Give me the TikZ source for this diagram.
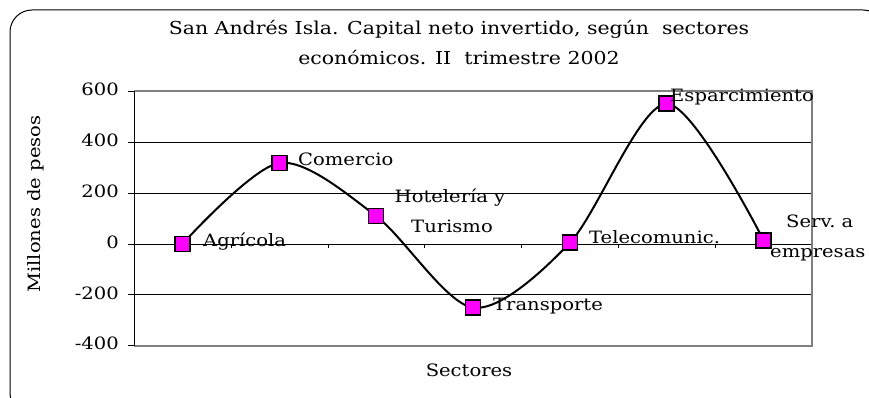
\documentclass[tikz,border=0pt]{standalone}
\usepackage{fontspec}
\setmainfont[FakeStretch=1.15]{DejaVu Serif}
\usetikzlibrary{positioning}

\definecolor{punto}{RGB}{255,0,255}
\definecolor{marco}{RGB}{128,128,128}

\begin{document}
\begin{tikzpicture}[x=1pt, y=-1pt, font=\fontsize{17}{20}\selectfont,
	marca/.style = {draw, line width=1.5pt, fill=punto, minimum size=15pt, inner sep=0pt},
	etiq/.style = {inner sep=0pt, anchor=base west},
	grid/.style = {line width=0.9pt}]
\useasboundingbox (0, 0) rectangle (869, 398);
\draw[line width=1pt, rounded corners=22pt] (10, 10) rectangle (885, 415);

% titulo
\node[anchor=base, font=\fontsize{17.8}{20}\selectfont] (tit1) at (459, 35) {San Andrés Isla. Capital neto invertido, según\ \ sectores};
\node[anchor=base, font=\fontsize{17.8}{20}\selectfont] (tit2) at (459, 65) {económicos. II\ \ trimestre 2002};

% rejilla
\foreach \y in {142.5, 193.4, 244, 294.9}
	\draw[grid] (134, \y) -- (812, \y);
\draw[marco, line width=1.8pt] (134, 91.3) -- (812, 91.3) -- (812, 345.8) -- (134, 345.8);
\draw[line width=1pt] (134, 91.3) -- (134, 345.8);
\foreach \y/\v in {91.3/600, 142.5/400, 193.4/200, 244/0, 294.9/-200, 345.8/-400} {
	\draw[line width=1pt] (128, \y) -- (134, \y);
	\node[anchor=east, inner sep=0pt] at (119, \y - 2) {\v};
}
\foreach \k in {1, ..., 6}
	\draw (134 + 96.86*\k, 244) -- ++(0, 4);

\node[rotate=90] (ylab) at (36, 204) {Millones de pesos};
\node[anchor=base] (xlab) at (469, 376) {Sectores};

% datos
\coordinate (agr) at (182.4, 244);
\coordinate (com) at (279.3, 163);
\coordinate (hot) at (376.1, 216);
\coordinate (tra) at (473, 307.6);
\coordinate (tel) at (569.9, 242.7);
\coordinate (esp) at (666.7, 103.7);
\coordinate (ser) at (763.6, 240.3);

\draw[line width=2pt] plot[smooth, tension=0.5] coordinates {(agr) (com) (hot) (tra) (tel) (esp) (ser)};

\foreach \p in {agr, com, hot, tra, tel, esp, ser}
	\node[marca] (m\p) at (\p) {};

\node[etiq] (lagr) at (203, 246) {Agrícola};
\node[etiq] (lcom) at (298, 165) {Comercio};
\node[anchor=base] (lhot1) at (450, 202.5) {Hotelería y};
\node[anchor=base] (lhot2) at (452, 232) {Turismo};
\node[etiq] (ltra) at (493, 310) {Transporte};
\node[etiq] (ltel) at (589, 243) {Telecomunic.};
\node[etiq] (lesp) at (670, 102) {Esparcimiento};
\node[etiq] (lser1) at (786, 227) {Serv.\ a};
\node[etiq] (lser2) at (770, 257) {empresas};
\end{tikzpicture}
\end{document}
